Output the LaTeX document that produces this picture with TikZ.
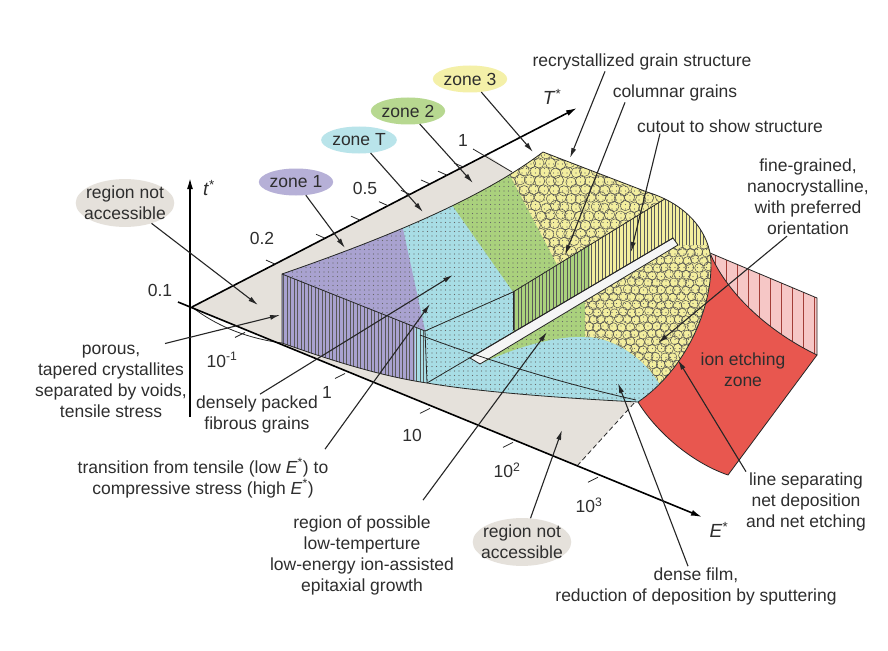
\documentclass[tikz,border=0pt]{standalone}
\usepackage{fontspec}
\setmainfont{Liberation Sans}
\usetikzlibrary{arrows.meta,shapes.geometric,patterns.meta}

\definecolor{zpurple}{HTML}{A9A2D0}
\definecolor{zblue}{HTML}{A8DDE5}
\definecolor{zgreen}{HTML}{AAD17D}
\definecolor{zyellow}{HTML}{F3EE9E}
\definecolor{basegrey}{HTML}{E5E1DB}
\definecolor{etchred}{HTML}{E8574F}
\definecolor{etchpink}{HTML}{F6C7C6}
\definecolor{inkgrey}{HTML}{2E2E2E}

% outline of the deposited film (pixel coordinates, y downwards)
\newcommand{\solidoutline}{(282,274) .. controls (380,240) and (480,200) .. (543,152) -- (647,192) .. controls (690,205) and (710,235) .. (711,262) .. controls (712,310) and (685,370) .. (638,402) .. controls (560,398) and (480,392) .. (427,383) .. controls (380,376) and (330,360) .. (282,343) -- cycle}

\begin{document}
\begin{tikzpicture}[x=1pt,y=-1pt,
	every node/.style={font=\fontsize{17.5}{21}\selectfont, text=inkgrey, inner sep=1pt},
	lbl/.style={align=center},
	zonelbl/.style={ellipse, minimum width=72pt, minimum height=27pt, inner sep=0pt},
	axisline/.style={line width=1.6pt, -{Latex[length=11pt,width=6pt]}},
	callout/.style={line width=1.1pt, black!85, -{Latex[length=10pt,width=5pt]}},
	rim/.style={line width=0.8pt, draw=black!85},
	stipple/.style={pattern={Dots[distance=4.5pt,radius=0.55pt]}, pattern color=black!60},
	stripes/.style={pattern={Lines[angle=90,distance=3.5pt,line width=0.5pt]}, pattern color=black!65},
	grain/.style={line width=0.45pt, draw=black!70}]
	\pgfmathsetseed{7}
	\fill[white] (0,0) rectangle (888,650);
	\useasboundingbox (0,0) rectangle (888,650);
	%% base plane, region not accessible
	\fill[basegrey] (192,307) -- (487,155) -- (512,172) -- (600,250) -- (636,400) -- (577,466) -- cycle;
	%% ion etching zone
	\fill[etchpink] (710,253) -- (817,298) -- (817,355) .. controls (765,330) and (725,290) .. (710,253);
	\fill[pattern={Lines[angle=90,distance=11pt,line width=0.6pt]}, pattern color=etchred!70!black] (710,253) -- (817,298) -- (817,355) .. controls (765,330) and (725,290) .. (710,253);
	\draw[rim] (710,253) -- (817,298) -- (817,355);
	\fill[etchred] (710,253) .. controls (725,290) and (765,330) .. (817,355) -- (728,475) .. controls (690,462) and (655,430) .. (638,402) -- (690,300) -- cycle;
	\draw[rim] (710,253) .. controls (725,290) and (765,330) .. (817,355) -- (728,475) .. controls (690,462) and (655,430) .. (638,402);
	%% the film itself
	\begin{scope}
		\clip \solidoutline;
		\fill[zyellow] (250,100) rectangle (800,450);
		% upper top face
		\begin{scope}
			\clip (282,274) .. controls (380,240) and (480,200) .. (543,152) -- (760,150) -- (730,159) -- (513,292) -- (425,331) -- cycle;
			\fill[zgreen] (150,100) -- (470,100) -- (655,450) -- (150,450) -- cycle;
			\fill[zblue] (150,100) -- (378,100) -- (624,450) -- (150,450) -- cycle;
			\fill[zpurple] (150,100) -- (375,100) -- (451,450) -- (150,450) -- cycle;
			\fill[stipple] (150,100) rectangle (800,450);
			\clip (470,100) -- (800,100) -- (800,450) -- (655,450) -- cycle;
			\foreach \i in {0,...,23}{
				\foreach \j in {0,...,15}{
					\pgfmathsetmacro{\gx}{500+10*\i+5*mod(\j,2)+1.5*rand}
					\pgfmathsetmacro{\gy}{146+8.7*\j+1.5*rand}
					\draw[grain] (\gx,\gy) circle (5.2pt);
				}
			}
		\end{scope}
		% cut face showing the columns
		\begin{scope}
			\clip (425,331) -- (513,292) -- (730,159) -- (760,159) -- (760,245) -- (678,245) -- (673,238) -- (427,383) -- cycle;
			\fill[zgreen] (400,150) rectangle (590,400);
			\fill[zblue] (400,150) rectangle (513,400);
			\fill[stipple] (400,150) rectangle (513,400);
			\fill[stripes] (513,150) rectangle (800,400);
		\end{scope}
		% lower top face
		\begin{scope}
			\clip (427,383) -- (470,358) -- (480,364) -- (678,245) -- (760,245) -- (760,450) -- (420,450) -- cycle;
			\fill[zblue] (400,200) rectangle (800,450);
			\fill[zgreen] (480,364) -- (678,245) -- (760,245) -- (760,390) -- (662,388) .. controls (648,362) and (620,340) .. (590,337) .. controls (560,335) and (520,345) .. (480,364) -- cycle;
			\fill[zyellow] (585,301) -- (678,245) -- (760,245) -- (760,390) -- (662,388) .. controls (648,362) and (620,340) .. (590,337) -- (585,337) -- cycle;
			\fill[stipple] (400,200) rectangle (800,450);
			\clip (585,301) -- (678,245) -- (760,245) -- (760,390) -- (662,388) .. controls (648,362) and (620,340) .. (590,337) -- (585,337) -- cycle;
			\foreach \i in {0,...,16}{
				\foreach \j in {0,...,20}{
					\pgfmathsetmacro{\gx}{580+8.5*\i+4.25*mod(\j,2)+1.3*rand}
					\pgfmathsetmacro{\gy}{238+7.4*\j+1.3*rand}
					\draw[grain] (\gx,\gy) circle (4.4pt);
				}
			}
		\end{scope}
		% front face of zone 1
		\begin{scope}
			\clip (282,274) -- (425,331) -- (427,383) .. controls (380,376) and (330,360) .. (282,343) -- cycle;
			\fill[zpurple] (270,260) rectangle (415,400);
			\fill[zblue] (415,260) rectangle (440,400);
			\fill[stripes] (270,260) rectangle (440,400);
		\end{scope}
		% white strip of the cutout
		\filldraw[rim, fill=black!4] (470,358) -- (673,238) -- (678,245) -- (480,364) -- cycle;
		% edges inside the film
		\draw[rim] (282,274) -- (425,331) -- (427,383);
		\draw[rim] (425,331) -- (513,292) -- (730,159);
		\draw[rim] (513,292) -- (513,330);
		\draw[rim] (427,383) -- (673,238);
		\draw[rim] (420,335) .. controls (500,365) and (570,385) .. (636,400);
	\end{scope}
	\draw[rim] \solidoutline;
	\draw[rim] (192,307) .. controls (215,325) and (245,338) .. (282,343);
	\draw[rim, dash pattern=on 5pt off 3pt] (577,466) -- (636,401);
	%% axes with ticks
	\draw[axisline] (190,417) -- (190,178);
	\draw[axisline] (192,307) -- (577,108);
	\draw[axisline] (178,302) -- (702,517);
	\foreach \tx in {275,325,360,388,410,430,447,463}{
		\draw[rim] (\tx,{307-0.5169*(\tx-192)}) -- ++(-9,-4);
	}
	\draw[rim] (473,149) -- (512,172);
	\foreach \ex in {240,340,425,508,593}{
		\draw[rim] (\ex-5,{302+0.4103*(\ex-178)+10}) -- ++(10,-5);
	}
	%% axis names and tick labels
	\node[font=\fontsize{19}{21}\selectfont] (tstar) at (209,188) {\textit{t}\textsuperscript{*}};
	\node[font=\fontsize{19}{21}\selectfont] (Tstar) at (552,97) {\textit{T}\textsuperscript{*}};
	\node[font=\fontsize{19}{21}\selectfont] (Estar) at (719,530) {\textit{E}\textsuperscript{*}};
	\node (t01) at (160,290) {0.1};
	\node (t02) at (262,238) {0.2};
	\node (t05) at (365,188) {0.5};
	\node (t10) at (463,140) {1};
	\node (em1) at (222,360) {10\textsuperscript{-1}};
	\node (e0) at (327,392) {1};
	\node (e1) at (412,435) {10};
	\node (e2) at (507,470) {10\textsuperscript{2}};
	\node (e3) at (589,505) {10\textsuperscript{3}};
	%% zone labels
	\node[zonelbl, fill=zpurple!85] (zone1) at (296,182) {zone 1};
	\node[zonelbl, fill=zblue!80] (zoneT) at (359,140) {zone T};
	\node[zonelbl, fill=zgreen!85] (zone2) at (408,111) {zone 2};
	\node[zonelbl, fill=zyellow!90] (zone3) at (470,79) {zone 3};
	\coordinate (z1tip) at (345,248);
	\coordinate (zTtip) at (423,212);
	\coordinate (z2tip) at (473,183);
	\coordinate (z3tip) at (533,152);
	\draw[callout] (zone1) -- (z1tip);
	\draw[callout] (zoneT) -- (zTtip);
	\draw[callout] (zone2) -- (z2tip);
	\draw[callout] (zone3) -- (z3tip);
	%% labels with arrows
	\node[ellipse, fill=basegrey, align=center, inner xsep=-6pt, inner ysep=0pt] (nrTop) at (125,203) {region not\\accessible};
	\node[ellipse, fill=basegrey, align=center, inner xsep=-6pt, inner ysep=0pt] (nrBot) at (522,542) {region not\\accessible};
	\node[lbl] (recryst) at (642,62) {recrystallized grain structure};
	\node[lbl] (colgr) at (675,93) {columnar grains};
	\node[lbl] (cutout) at (730,126) {cutout to show structure};
	\node[lbl] (fine) at (808,197) {fine-grained,\\nanocrystalline,\\with preferred\\orientation};
	\node[lbl] (porous) at (111,381) {porous,\\tapered crystallites\\separated by voids,\\tensile stress};
	\node[lbl] (dense) at (257,414) {densely packed\\fibrous grains};
	\node[lbl] (trans) at (203,478) {transition from tensile (low \textit{E}\textsuperscript{*}) to\\compressive stress (high \textit{E}\textsuperscript{*})};
	\node[lbl] (epi) at (362,555) {region of possible\\low-temperture\\low-energy ion-assisted\\epitaxial growth};
	\node[lbl] (film) at (696,586) {dense film,\\reduction of deposition by sputtering};
	\node[lbl] (linesep) at (806,502) {line separating\\net deposition\\and net etching};
	\node[lbl] (etch) at (743,370) {ion etching\\zone};
	\coordinate (nrTopTip) at (258,305);
	\coordinate (nrBotTip) at (562,430);
	\coordinate (recTip) at (570,158);
	\coordinate (colTip) at (565,255);
	\coordinate (cutTip) at (631,252);
	\coordinate (fineTip) at (658,343);
	\coordinate (porTip) at (280,315);
	\coordinate (denTip) at (453,275);
	\coordinate (traTip) at (430,304);
	\coordinate (epiTip) at (547,332);
	\coordinate (filmTip) at (618,383);
	\coordinate (sepTip) at (678,360);
	\draw[callout] (nrTop) -- (nrTopTip);
	\draw[callout] (nrBot) -- (nrBotTip);
	\draw[callout] ([xshift=-37pt]recryst.south) -- (recTip);
	\draw[callout] ([xshift=-50pt]colgr.south) -- (colTip);
	\draw[callout] ([xshift=-70pt]cutout.south) -- (cutTip);
	\draw[callout] ([xshift=-21pt]fine.south) -- (fineTip);
	\draw[callout] ([xshift=54pt]porous.north) -- (porTip);
	\draw[callout] ([xshift=3pt]dense.north) -- (denTip);
	\draw[callout] ([xshift=122pt,yshift=8pt]trans.north) -- (traTip);
	\draw[callout] ([xshift=61pt,yshift=14pt]epi.north) -- (epiTip);
	\draw[callout] ([xshift=-8pt]film.north) -- (filmTip);
	\draw[callout] ([xshift=-60pt]linesep.north) -- (sepTip);
\end{tikzpicture}
\end{document}
